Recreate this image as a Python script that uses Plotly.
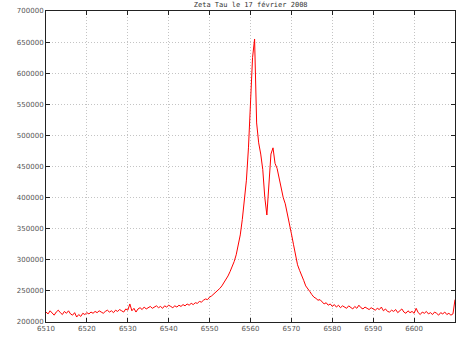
import plotly.graph_objects as go

# Spectrum sampled every 0.5 Angstrom starting at 6510 (flux in thousands)
start_wl = 6510.0
step_wl = 0.5
flux_k = [
    216, 213, 218, 214, 211, 216, 219, 215, 212, 217,   # 6510.0-6514.5
    214, 218, 213, 211, 215, 208, 212, 209, 214, 212,   # 6515.0-6519.5
    215, 213, 216, 214, 217, 215, 218, 216, 214, 217,   # 6520.0-6524.5
    219, 216, 218, 215, 219, 217, 220, 218, 216, 221,   # 6525.0-6529.5
    219, 229, 218, 222, 216, 221, 223, 220, 224, 221,   # 6530.0-6534.5
    223, 225, 222, 224, 226, 223, 225, 222, 226, 224,   # 6535.0-6539.5
    227, 225, 223, 226, 224, 227, 225, 228, 226, 229,   # 6540.0-6544.5
    227, 230, 228, 231, 230, 233, 232, 235, 237, 236,   # 6545.0-6549.5
    240, 242, 245, 247, 250, 254, 258, 263, 268, 274,   # 6550.0-6554.5
    281, 288, 297, 308, 322, 340, 365, 395, 428, 480,   # 6555.0-6559.5
    560, 625, 655, 520, 488, 470, 445, 400, 372, 415,   # 6560.0-6564.5
    470, 480, 455, 447, 430, 415, 400, 390, 372, 358,   # 6565.0-6569.5
    342, 325, 308, 292, 283, 276, 267, 258, 254, 249,   # 6570.0-6574.5
    244, 240, 238, 235, 236, 232, 229, 231, 227, 229,   # 6575.0-6579.5
    225, 228, 224, 227, 223, 226, 224, 222, 226, 223,   # 6580.0-6584.5
    221, 225, 222, 227, 223, 221, 224, 222, 220, 223,   # 6585.0-6589.5
    221, 219, 222, 220, 224, 218, 221, 217, 216, 219,   # 6590.0-6594.5
    217, 220, 215, 218, 221, 216, 214, 218, 215, 217,   # 6595.0-6599.5
    214, 222, 215, 212, 216, 214, 217, 213, 215, 212,   # 6600.0-6604.5
    216, 214, 211, 215, 213, 216, 212, 214, 211, 213,   # 6605.0-6609.5
    236,                                                # 6610.0
]
wavelength = [start_wl + step_wl * i for i in range(len(flux_k))]
flux = [v * 1000 for v in flux_k]

x_ticks = [6510, 6520, 6530, 6540, 6550, 6560, 6570, 6580, 6590, 6600]
y_ticks = [200000, 250000, 300000, 350000, 400000, 450000, 500000, 550000, 600000, 650000, 700000]
title_text = "Zeta Tau le 17 février 2008"

fig = go.Figure()
fig.add_trace(go.Scatter(
    x=wavelength, y=flux, mode="lines",
    line=dict(color="#ff0000", width=1),
    hoverinfo="skip", showlegend=False,
))

axis_common = dict(
    showline=True, linecolor="#222222", linewidth=1, mirror="allticks",
    ticks="inside", ticklen=4, tickcolor="#222222",
    showgrid=True, gridcolor="#c4c4c4", griddash="1px,2px", gridwidth=1,
    zeroline=False,
    tickfont=dict(family="DejaVu Sans", size=7, color="#555555"),
)

fig.update_layout(
    width=460, height=338,
    margin=dict(l=46, r=5, t=11, b=16),
    paper_bgcolor="white", plot_bgcolor="white",
    title=dict(text=title_text, x=0.545, xanchor="center", y=0.995, yanchor="top",
               font=dict(family="DejaVu Sans Mono", size=7, color="#333333")),
    xaxis=dict(range=[6510, 6610], tickvals=x_ticks,
               ticktext=[str(v) for v in x_ticks], **axis_common),
    yaxis=dict(range=[200000, 700000], tickvals=y_ticks,
               ticktext=[str(v) for v in y_ticks], **axis_common),
)

fig.write_html("out.html")
